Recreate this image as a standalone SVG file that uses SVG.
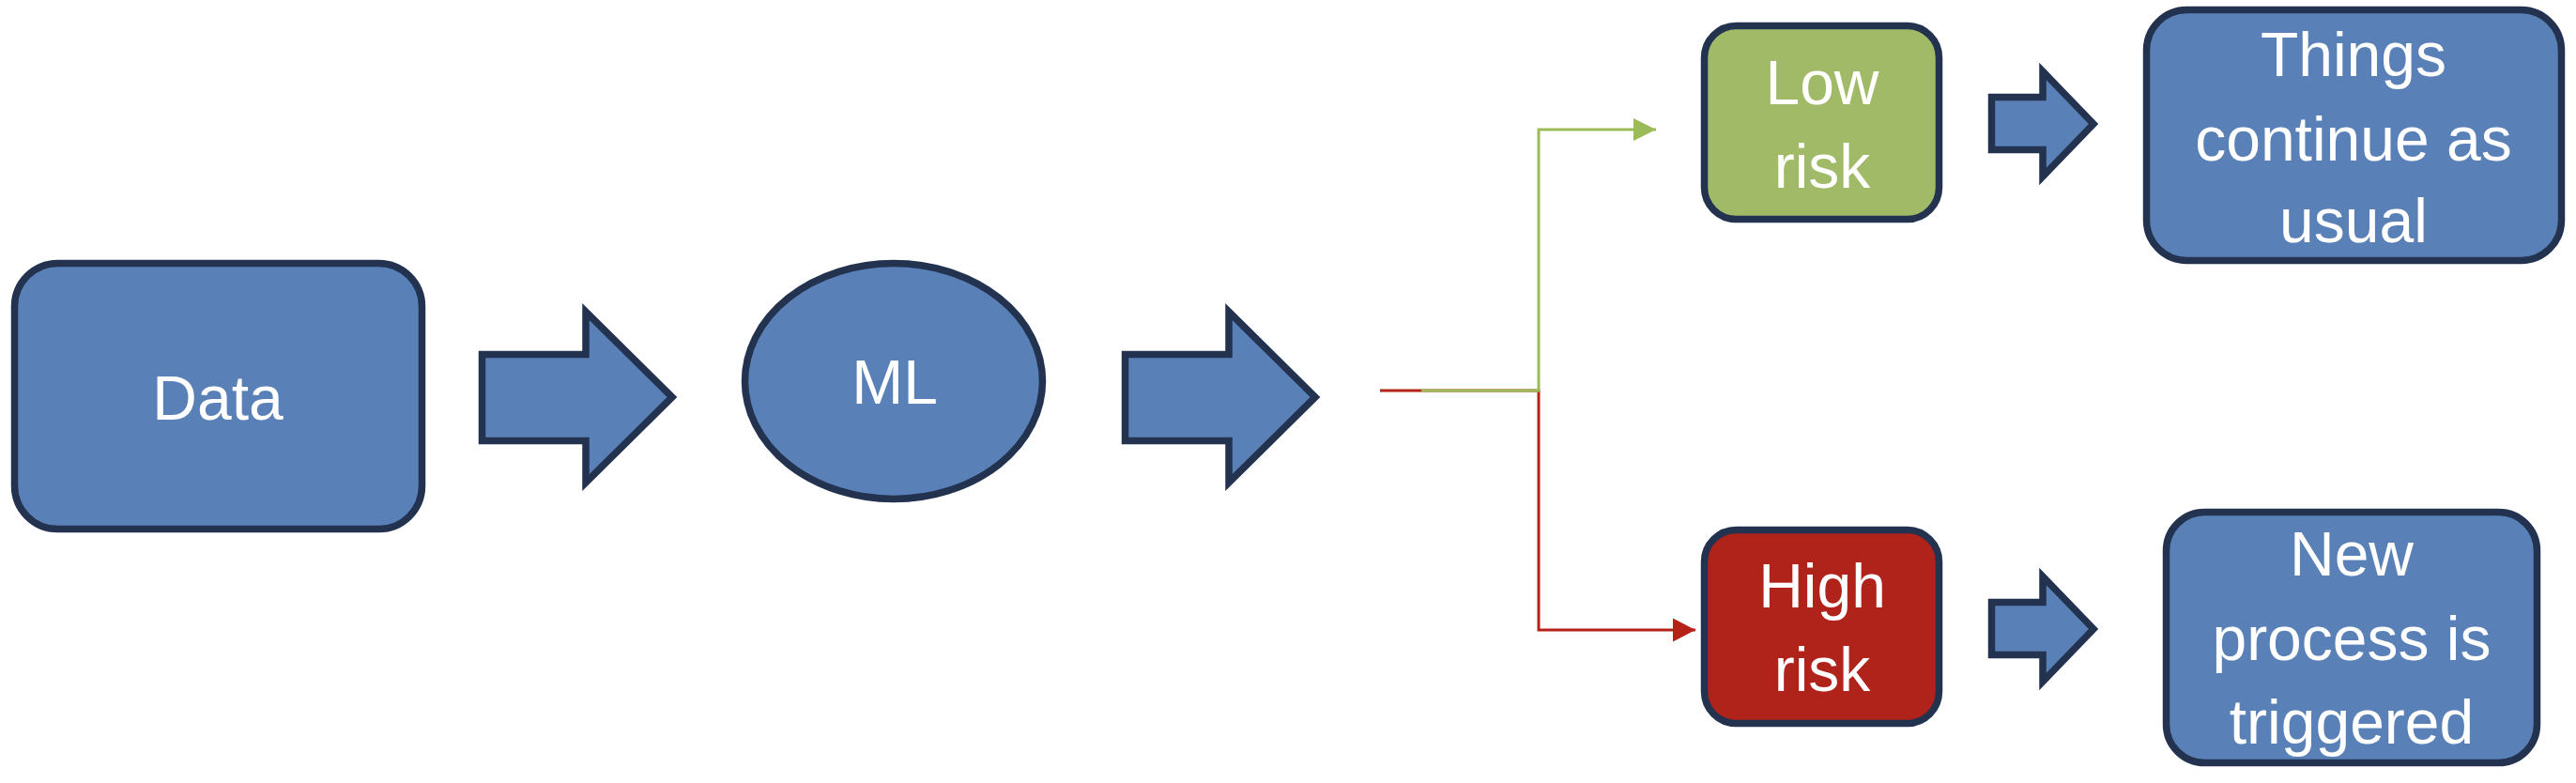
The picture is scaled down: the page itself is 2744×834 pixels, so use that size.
<svg xmlns="http://www.w3.org/2000/svg" width="2744" height="834" viewBox="0 0 2744 834">
<style>
.node{fill:#5A81B7;stroke:#22324F;stroke-width:7.5}
.low{fill:#A1BA67;stroke:#22324F;stroke-width:7.5}
.high{fill:#B0231A;stroke:#22324F;stroke-width:7.5}
.arrow{fill:#5A81B7;stroke:#22324F;stroke-width:7.5;stroke-linejoin:miter}
.t{font-family:"Liberation Sans",Arial,sans-serif;font-size:66px;fill:#FFFFFF;text-anchor:middle}
.cg{fill:none;stroke:#9BBB59;stroke-width:3}
.cr{fill:none;stroke:#B52218;stroke-width:3}
</style>
<defs>
<marker id="mg" markerUnits="userSpaceOnUse" markerWidth="26" markerHeight="26" refX="24" refY="12" orient="auto"><path d="M0,0 L24,12 L0,24 Z" fill="#9BBB59"/></marker>
<marker id="mr" markerUnits="userSpaceOnUse" markerWidth="26" markerHeight="26" refX="24" refY="12.5" orient="auto"><path d="M0,0 L24,12.5 L0,25 Z" fill="#B52218"/></marker>
</defs>
<g id="connectors">
<path class="cr" d="M1470,416 H1639 V671 H1806" marker-end="url(#mr)"/>
<path class="cg" d="M1514,416 H1639 V138 H1764" marker-end="url(#mg)"/>
</g>
<g id="node-data">
<rect class="node" x="15.5" y="280.5" width="434" height="283" rx="46" ry="46"/>
<text class="t" x="232" y="447">Data</text>
</g>
<g id="arrow-1">
<polygon class="arrow" points="513.5,377.5 624,377.5 624,332 716,423 624,514 624,469.5 513.5,469.5"/>
</g>
<g id="node-ml">
<ellipse class="node" cx="952" cy="406" rx="158.5" ry="125.5"/>
<text class="t" x="953" y="430">ML</text>
</g>
<g id="arrow-2">
<polygon class="arrow" points="1198.5,377.5 1309,377.5 1309,332 1401,423 1309,514 1309,469.5 1198.5,469.5"/>
</g>
<g id="node-low">
<rect class="low" x="1815.5" y="27.5" width="250" height="206" rx="34" ry="34"/>
<text class="t" x="1941" y="111">Low</text>
<text class="t" x="1941" y="200">risk</text>
</g>
<g id="node-high">
<rect class="high" x="1815.5" y="564.5" width="250" height="206" rx="34" ry="34"/>
<text class="t" x="1941" y="647">High</text>
<text class="t" x="1941" y="736">risk</text>
</g>
<g id="arrow-3">
<polygon class="arrow" points="2121.5,103.5 2176,103.5 2176,76 2230,132 2176,188 2176,159.5 2121.5,159.5"/>
</g>
<g id="arrow-4">
<polygon class="arrow" points="2121.5,641.5 2176,641.5 2176,614 2230,670 2176,726 2176,697.5 2121.5,697.5"/>
</g>
<g id="node-things">
<rect class="node" x="2286.5" y="10.5" width="442" height="267" rx="43" ry="43"/>
<text class="t" x="2507" y="81">Things</text>
<text class="t" x="2507" y="171">continue as</text>
<text class="t" x="2507" y="258">usual</text>
</g>
<g id="node-new">
<rect class="node" x="2307.5" y="545.5" width="395" height="267" rx="41" ry="41"/>
<text class="t" x="2505" y="613">New</text>
<text class="t" x="2505" y="703">process is</text>
<text class="t" x="2505" y="792">triggered</text>
</g>
</svg>
